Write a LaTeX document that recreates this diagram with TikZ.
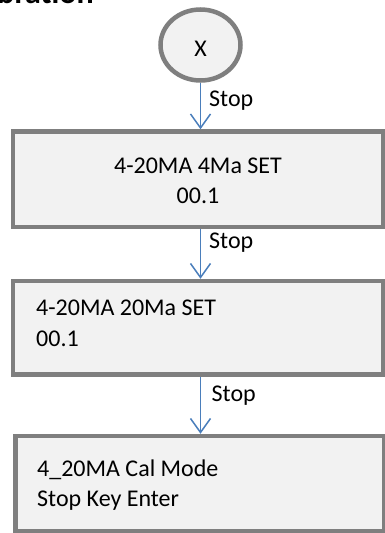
\documentclass[tikz,border=0pt]{standalone}
\usepackage{fontspec}
\setmainfont{Carlito}
\usetikzlibrary{arrows.meta,shapes.geometric}
\definecolor{boxfill}{HTML}{F2F2F2}
\definecolor{boxline}{HTML}{7F7F7F}
\definecolor{arrowblue}{HTML}{4A7EBB}
\begin{document}
\begin{tikzpicture}[x=1pt,y=-1pt,
  stepbox/.style={draw=boxline,fill=boxfill,line width=4.5pt,rectangle,inner sep=0pt,minimum width=370pt},
  startnode/.style={draw=boxline,fill=boxfill,line width=4.5pt,ellipse,inner sep=0pt,minimum width=80pt,minimum height=71pt},
  txt/.style={font=\fontsize{24}{30}\selectfont,inner sep=0pt},
  flow/.style={draw=arrowblue,line width=1.5pt,-{Straight Barb[length=14pt,width=20pt]}}
]
\useasboundingbox (0,0) rectangle (385,533);
\node[anchor=base east,inner sep=0pt,font=\bfseries\fontsize{32}{32}\selectfont] (title) at (94,3) {Calibration};
\node[startnode] (x) at (200.5,45) {};
\node[txt,anchor=base] (xt) at (200.5,56.5) {X};
\node[stepbox,minimum height=95.5pt] (b1) at (198,179.25) {};
\node[txt,anchor=base] (b1a) at (198,173) {4-20MA 4Ma SET};
\node[txt,anchor=base] (b1b) at (198,203) {00.1};
\node[stepbox,minimum height=93.5pt] (b2) at (198,327.75) {};
\node[txt,anchor=base west] (b2a) at (36,315.5) {4-20MA 20Ma SET};
\node[txt,anchor=base west] (b2b) at (36,346) {00.1};
\node[stepbox,minimum height=95pt,minimum width=368.5pt] (b3) at (199.75,483.5) {};
\node[txt,anchor=base west] (b3a) at (37,476.5) {4\_20MA Cal Mode};
\node[txt,anchor=base west] (b3b) at (37,506.5) {Stop Key Enter};
\draw[flow] (x.south -| 200.5,0) -- (b1.north -| 200.5,0);
\node[txt,anchor=base west] (s1) at (209,106) {Stop};
\draw[flow] (b1.south -| 200.5,0) -- (b2.north -| 200.5,0);
\node[txt,anchor=base west] (s2) at (209,248) {Stop};
\draw[flow] (b2.south -| 200.5,0) -- (b3.north -| 200.5,0);
\node[txt,anchor=base west] (s3) at (211.5,401) {Stop};
\end{tikzpicture}
\end{document}
